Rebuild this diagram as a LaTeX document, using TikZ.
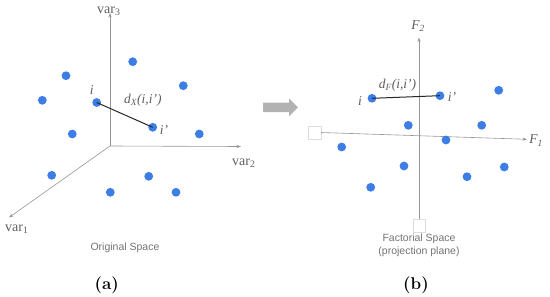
\documentclass[tikz,border=0pt]{standalone}
\usepackage{fontspec}
\setmainfont{Liberation Serif}
\setsansfont{Liberation Sans}
\newfontfamily\lmfont{Latin Modern Roman}
\usetikzlibrary{arrows.meta}
\definecolor{dotblue}{RGB}{61,126,230}
\definecolor{axisgrey}{RGB}{150,150,150}
\definecolor{labgrey}{RGB}{95,95,95}
\definecolor{capgrey}{RGB}{115,115,115}
\definecolor{boxgrey}{RGB}{220,220,220}
\definecolor{arrowgrey}{RGB}{178,178,178}
\begin{document}
\begin{tikzpicture}[x=1pt,y=-1pt,
  axis/.style={draw=axisgrey, line width=0.6pt, -{Stealth[length=4.5pt,width=3.2pt]}},
  dot/.style={circle, fill=dotblue, inner sep=0pt, minimum size=8.8pt},
  dist/.style={draw=black!85, line width=1pt},
  varlab/.style={text=labgrey, font=\fontsize{14}{16}\selectfont, inner sep=0pt},
  itlab/.style={text=labgrey, font=\fontsize{13.5}{15}\selectfont\itshape, inner sep=0pt},
  caplab/.style={text=capgrey, font=\sffamily\fontsize{10.5}{12.5}\selectfont, align=center, inner sep=0pt},
  panel/.style={font=\lmfont\bfseries\fontsize{17}{19}\selectfont, inner sep=0pt},
  ghost/.style={draw=boxgrey, fill=white, line width=0.4pt, minimum size=12.5pt, inner sep=0pt},
  bigarrow/.style={fill=arrowgrey, draw=none}]
\useasboundingbox (0,0) rectangle (550,297);

% ---------- panel (a) ----------
\coordinate (O) at (110,146);
\coordinate (v3tip) at (110,13);
\coordinate (v2tip) at (241,146.5);
\coordinate (v1tip) at (9,217.5);
\draw[axis] (O) -- (v3tip);
\draw[axis] (O) -- (v2tip);
\draw[axis] (O) -- (v1tip);
\node[varlab, anchor=base west] (var3) at (97,13.5) {var\textsubscript{3}};
\node[varlab, anchor=base west] (var2) at (232,165) {var\textsubscript{2}};
\node[varlab, anchor=base west] (var1) at (5,231) {var\textsubscript{1}};

\node[dot] (a1) at (132.7,61.7) {};
\node[dot] (a2) at (66,75.7) {};
\node[dot] (a3) at (183.3,85.7) {};
\node[dot] (a4) at (42.3,100.3) {};
\node[dot] (ai) at (96.7,102.5) {};
\node[dot] (aip) at (152.7,127.3) {};
\node[dot] (a5) at (72.3,134) {};
\node[dot] (a6) at (199.3,134) {};
\node[dot] (a7) at (51.7,175.3) {};
\node[dot] (a8) at (148.7,176.3) {};
\node[dot] (a9) at (110.3,192.3) {};
\node[dot] (a10) at (176,192.3) {};
\draw[dist] (ai.center) -- (aip.center);

\node[itlab] (ailab) at (91.7,90) {i};
\node[itlab] (aiplab) at (164,130.5) {i'};
\node[itlab, anchor=base west] (dX) at (124,103) {d\textsubscript{X}(i,i')};

\node[caplab] (orig) at (125,248) {Original Space};
\node[panel] (pa) at (106.7,285.5) {(a)};

% ---------- arrow ----------
\path[bigarrow] (263,102.5) -- (289,102.5) -- (289,98.3) -- (298,107.3)
  -- (289,116.5) -- (289,112) -- (263,112) -- cycle;

% ---------- panel (b) ----------
\node[ghost] (sqL) at (314.7,132.5) {};
\node[ghost] (sqB) at (419,225.5) {};
\coordinate (F1tip) at (527,139.3);
\coordinate (F2tip) at (419,37.5);
\draw[axis] (sqL.east) -- (F1tip);
\draw[axis] (sqB.north) -- (F2tip);
\node[itlab] (F2lab) at (418,26) {F\textsubscript{2}};
\node[itlab] (F1lab) at (536,140.5) {F\textsubscript{1}};

\node[dot] (bi) at (372,98.3) {};
\node[dot] (bip) at (440,95.7) {};
\node[dot] (b1) at (498.7,90.3) {};
\node[dot] (b2) at (408.3,125.3) {};
\node[dot] (b3) at (481.7,125.3) {};
\node[dot] (b4) at (341.7,147) {};
\node[dot] (b5) at (446,140) {};
\node[dot] (b6) at (404,166) {};
\node[dot] (b7) at (504.3,167) {};
\node[dot] (b8) at (467,176.7) {};
\node[dot] (b9) at (370.7,187.3) {};
\draw[dist] (bi.center) -- (bip.center);

\node[itlab] (bilab) at (360,101.5) {i};
\node[itlab] (biplab) at (452,97.5) {i'};
\node[itlab] (dF) at (397.5,85) {d\textsubscript{F}(i,i')};

\node[caplab] (fact) at (419,245.5) {Factorial Space\\(projection plane)};
\node[panel] (pb) at (416,285.5) {(b)};
\end{tikzpicture}
\end{document}
